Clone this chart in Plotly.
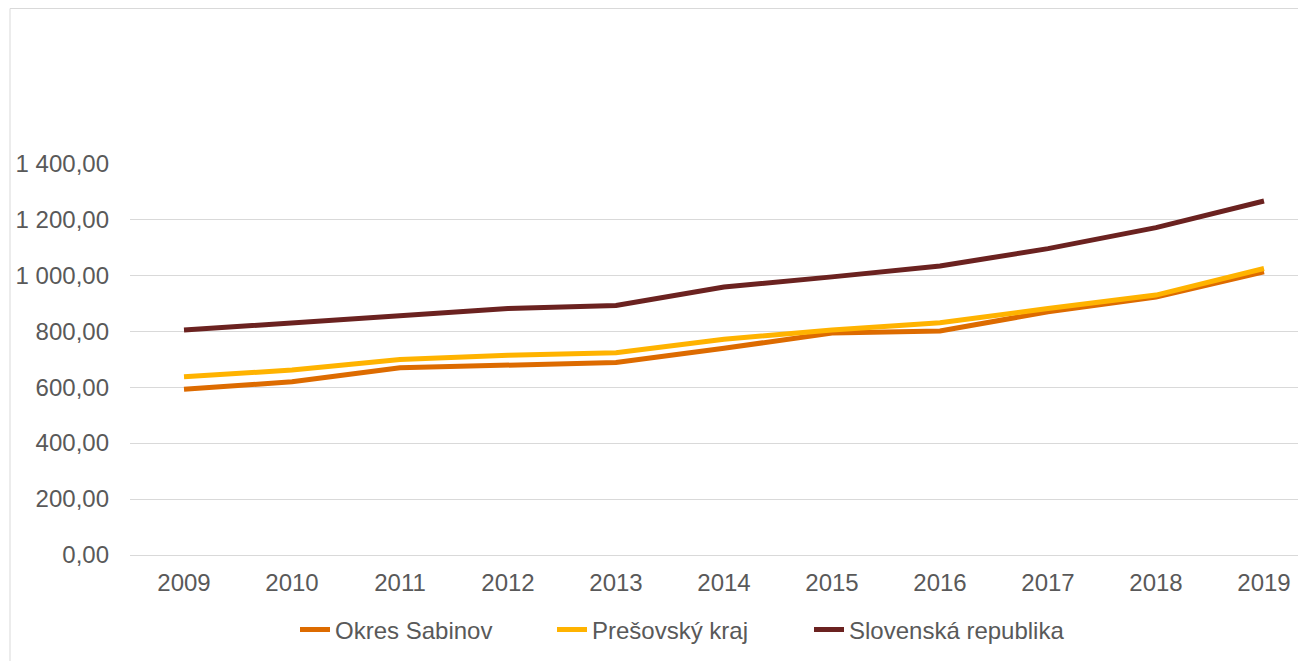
import plotly.graph_objects as go

# Data
years = ['2009', '2010', '2011', '2012', '2013', '2014', '2015', '2016', '2017', '2018', '2019']
okres_sabinov = [592, 619, 669, 679, 688, 739, 793, 801, 869, 922, 1012]
presovsky_kraj = [637, 661, 699, 714, 723, 771, 804, 830, 881, 929, 1024]
slovenska_republika = [804, 829, 858, 881, 892, 958, 994, 1033, 1095, 1170, 1265]

COLORS = {
    'sabinov': '#DD6B00',
    'presov': '#FFB300',
    'sr': '#6B2220',
    'grid': '#D9D9D9',
    'text': '#595959',
}

FONT = 'Liberation Sans, Arial, sans-serif'

# page offset of the plot div (body margin)
OFF = 8
W, H = 1306, 661
L, T, B = 130 - OFF, 163 - OFF, H - (555 - OFF)

fig = go.Figure()

series = [
    ('Okres Sabinov', okres_sabinov, COLORS['sabinov']),
    ('Prešovský kraj', presovsky_kraj, COLORS['presov']),
    ('Slovenská republika', slovenska_republika, COLORS['sr']),
]
for name, vals, color in series:
    fig.add_trace(go.Scatter(
        x=years, y=vals, name=name, mode='lines',
        line=dict(color=color, width=5),
    ))

plot_w = W - L
fig.update_layout(
    width=W, height=H,
    margin=dict(l=L, r=0, t=T, b=B),
    plot_bgcolor='white',
    paper_bgcolor='white',
    separators=', ',
    font=dict(family=FONT, size=24, color=COLORS['text']),
    showlegend=True,
    legend=dict(
        orientation='h',
        xref='container', yref='container',
        x=(295 - OFF) / W, xanchor='left',
        y=1 - (630 - OFF) / H, yanchor='middle',
        font=dict(family=FONT, size=24, color=COLORS['text']),
        entrywidth=212,
        itemwidth=30,
    ),
    xaxis=dict(
        type='category',
        range=[-0.5, plot_w / 108 - 0.5],
        showgrid=False,
        zeroline=False,
        showline=True,
        linecolor=COLORS['grid'],
        linewidth=1,
        ticks='',
        ticklabelstandoff=6,
    ),
    yaxis=dict(
        range=[0, 1401],
        tickvals=[0, 200, 400, 600, 800, 1000, 1200, 1400],
        tickformat=',.2f',
        showgrid=True,
        gridcolor=COLORS['grid'],
        gridwidth=1,
        zeroline=False,
        showline=False,
        ticks='',
        ticklabelstandoff=20,
    ),
    shapes=[dict(
        type='rect', xref='paper', yref='paper',
        x0=(10 - OFF - L) / plot_w, x1=1.2,
        y0=-1.0, y1=(555 - 8.5) / 392,
        line=dict(color=COLORS['grid'], width=1),
        fillcolor='rgba(0,0,0,0)',
        layer='below',
    )],
)

fig.write_html('out.html')
